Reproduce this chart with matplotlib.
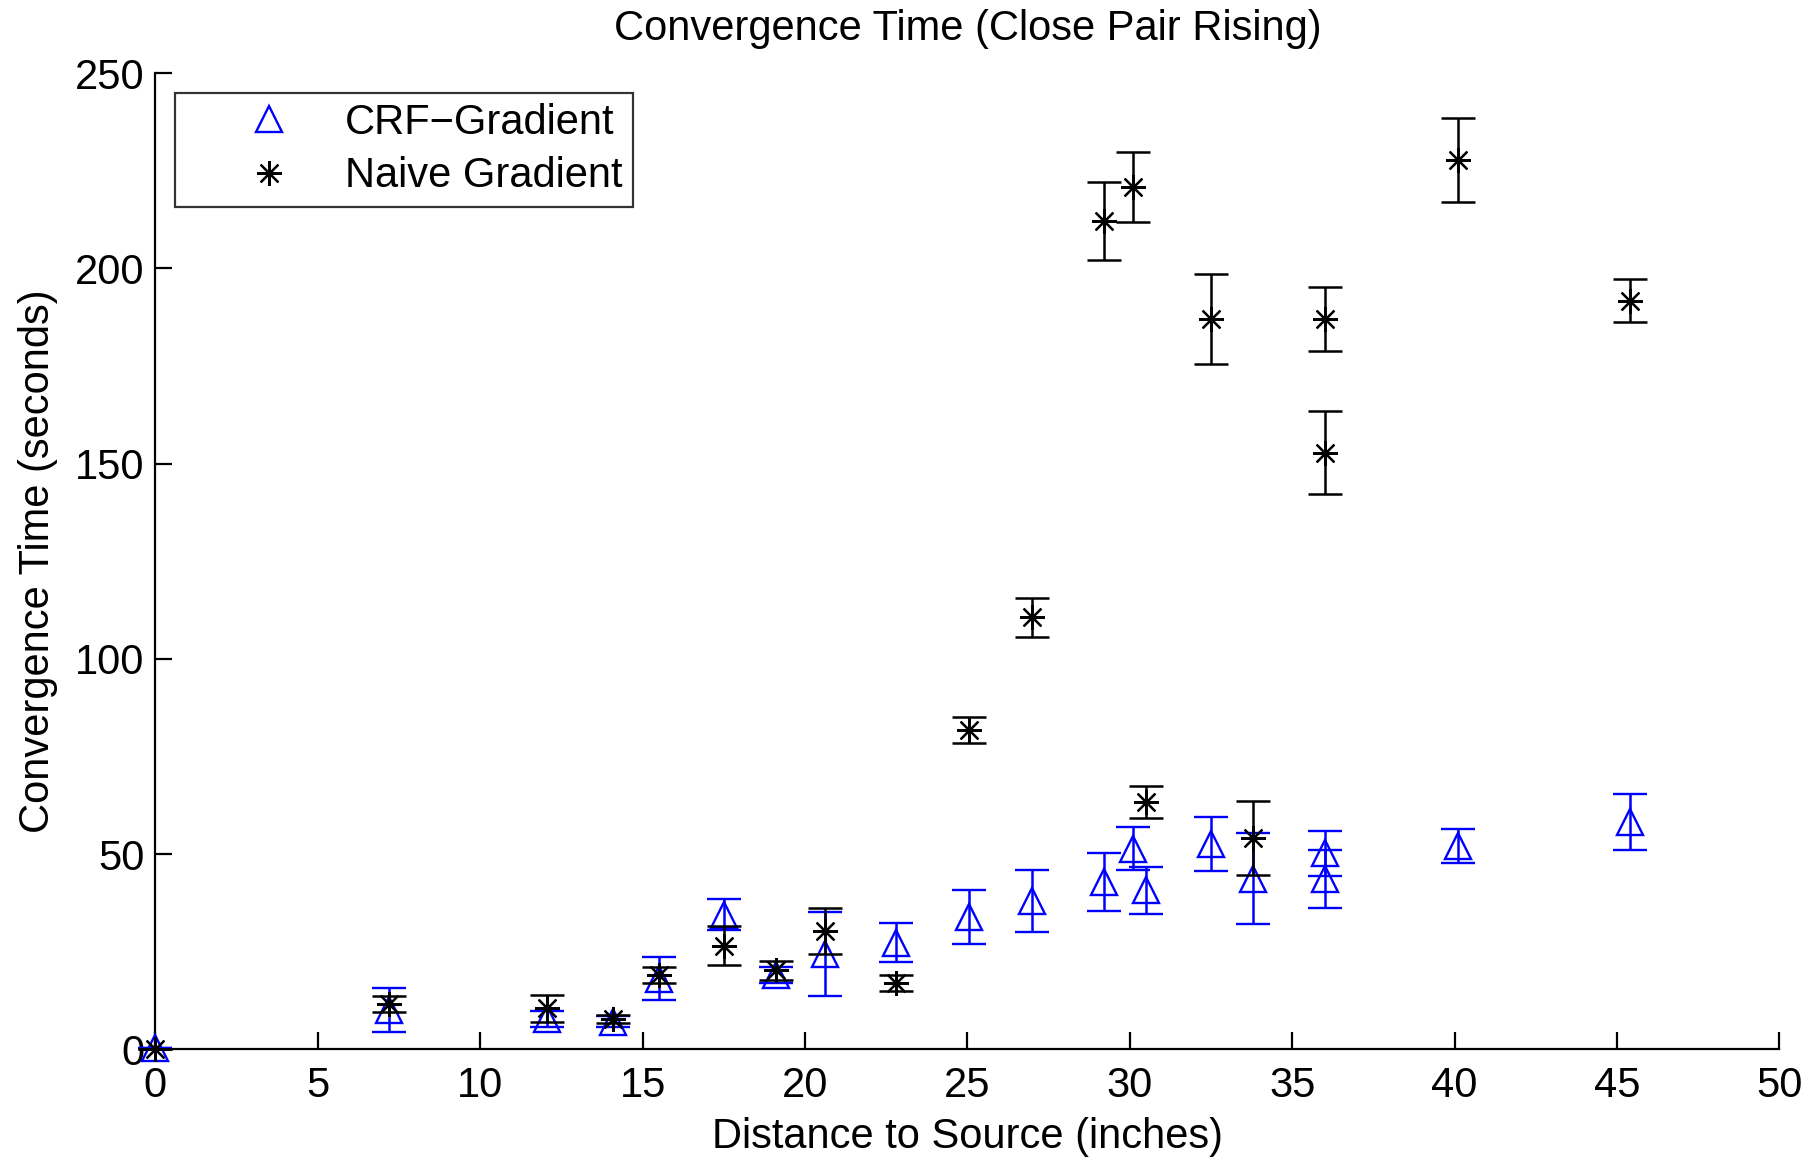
import matplotlib
matplotlib.use("Agg")
import matplotlib.pyplot as plt
from matplotlib.lines import Line2D

plt.rcParams['font.family'] = ['Liberation Sans', 'DejaVu Sans']

# distances (inches) -- same sample positions for both methods
dist = [0, 7.2, 12.05, 14.1, 15.5, 17.5, 19.1, 20.6, 22.8, 25.05, 27.0,
        29.2, 30.1, 30.5, 32.5, 33.8, 36.0, 36.0, 40.1, 45.4]

# CRF-Gradient mean / error
crf_mean = [0.3, 10.1, 7.7, 7.1, 18.1, 34.5, 19.0, 24.4, 27.3, 33.9, 38.0,
            42.8, 51.4, 40.7, 52.6, 43.7, 50.2, 43.7, 52.0, 58.3]
crf_err = [0.0, 5.6, 2.0, 1.5, 5.6, 4.0, 2.0, 10.7, 5.0, 7.0, 8.0,
           7.4, 5.5, 6.0, 7.0, 11.7, 5.7, 7.4, 4.3, 7.2]

# Naive Gradient mean / error
naive_dist = [0, 7.2, 12.05, 14.1, 15.5, 17.5, 19.1, 20.6, 22.8, 25.05, 27.0,
              29.2, 30.1, 30.5, 32.5, 33.8, 36.0, 36.0, 40.1, 45.4]
naive_mean = [0.0, 11.6, 10.5, 7.7, 19.0, 26.5, 20.2, 30.3, 16.9, 81.7, 110.6,
              212.2, 220.9, 63.3, 187.0, 54.1, 187.0, 152.8, 227.7, 191.7]
naive_err = [0.0, 2.0, 3.5, 1.0, 2.0, 5.0, 2.5, 6.0, 2.0, 3.3, 5.0,
             10.0, 9.0, 4.0, 11.5, 9.5, 8.3, 10.7, 10.8, 5.5]

fig = plt.figure(figsize=(18.2, 11.58), dpi=100)
ax = fig.add_axes([0.0854, 0.0939, 0.8923, 0.843])

star = (8, 2, 0)

ax.errorbar(dist, crf_mean, yerr=crf_err, fmt='^', color='blue',
            markerfacecolor='none', markeredgecolor='blue', markersize=19,
            markeredgewidth=1.7, elinewidth=1.8, capsize=12, capthick=1.8,
            clip_on=False, zorder=3)
ax.errorbar(naive_dist, naive_mean, yerr=naive_err, fmt='none', ecolor='black',
            elinewidth=1.8, capsize=12, capthick=1.8, clip_on=False, zorder=4)
ax.plot(naive_dist, naive_mean, linestyle='none', marker=star, color='black',
        markersize=18, markeredgewidth=1.6, clip_on=False, zorder=5)

ax.set_xlim(0, 50)
ax.set_ylim(0, 250)
ax.set_xticks(range(0, 51, 5))
ax.set_yticks(range(0, 251, 50))
ax.spines['top'].set_visible(False)
ax.spines['right'].set_visible(False)
ax.spines['left'].set_linewidth(1.6)
ax.spines['bottom'].set_linewidth(1.6)
ax.tick_params(direction='in', length=12, width=1.6, labelsize=30)
ax.tick_params(axis='x', pad=12)
ax.tick_params(axis='y', pad=8)

ax.set_title('Convergence Time (Close Pair Rising)', fontsize=30, pad=24)
ax.set_xlabel('Distance to Source (inches)', fontsize=30, labelpad=8)
ax.set_ylabel('Convergence Time (seconds)', fontsize=30, labelpad=12)

handles = [
    Line2D([], [], linestyle='none', marker='^', markersize=19,
           markerfacecolor='none', markeredgecolor='blue', markeredgewidth=1.7),
    Line2D([], [], linestyle='none', marker=star, markersize=18,
           color='black', markeredgewidth=1.6),
]
leg = ax.legend(handles, ['CRF\u2212Gradient', 'Naive Gradient'],
                loc='upper left', bbox_to_anchor=(0.012, 0.98),
                borderaxespad=0, fontsize=30, fancybox=False,
                handlelength=4.0, handletextpad=-0.17, borderpad=0.25,
                labelspacing=0.32)
leg.get_frame().set_edgecolor('black')
leg.get_frame().set_linewidth(1.6)

fig.savefig('out.png', dpi=100)
